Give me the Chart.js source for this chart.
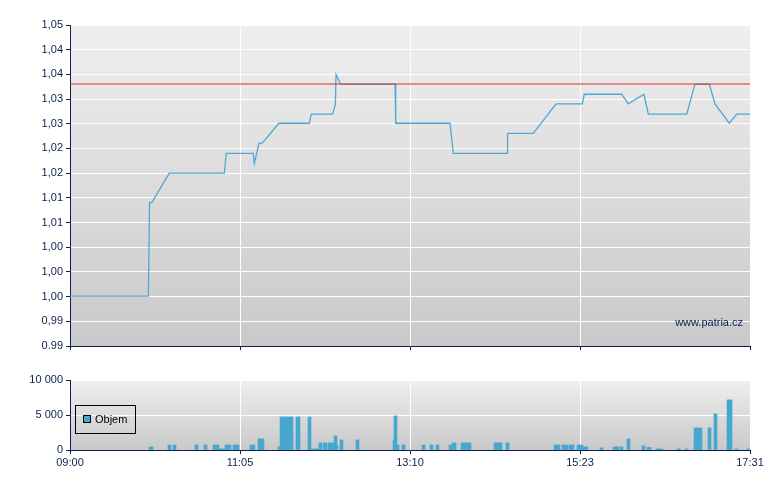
<!DOCTYPE html>
<html>
<head>
<meta charset="utf-8">
<script src="https://cdn.jsdelivr.net/npm/chart.js@4/dist/chart.umd.min.js"></script>
<style>
html,body{margin:0;padding:0;background:#ffffff;}
#wrap{position:relative;width:780px;height:490px;overflow:hidden;font-family:"Liberation Sans",Arial,sans-serif;color:#0b1f4f;}
canvas{position:absolute;left:0;}
#main{top:0;}
#vol{top:360px;}
#legend{position:absolute;left:75px;top:405px;width:59px;height:27px;border:1px solid #000;}
#legend .sw{position:absolute;left:7px;top:9px;width:6px;height:6px;border:1px solid #000;background:#48a8d0;}
#legend .tx{position:absolute;left:19px;top:7px;font-size:11px;line-height:12px;color:#000;white-space:nowrap;}
#wm{position:absolute;right:37px;top:316px;font-size:11px;line-height:13px;color:#0b1f4f;white-space:nowrap;}
</style>
</head>
<body>
<div id="wrap">
  <canvas id="main" width="780" height="358"></canvas>
  <canvas id="vol" width="780" height="130"></canvas>
  <div id="legend"><div class="sw"></div><div class="tx">Objem</div></div>
  <div id="wm">www.patria.cz</div>
</div>
<script>
// ---- data ----
const xTickLabels = ['09:00', '11:05', '13:10', '15:23', '17:31'];
const yTickLabels = ['0.99','0,99','1,00','1,00','1,00','1,01','1,01','1,02','1,02','1,03','1,03','1,04','1,04','1,05'];
const yMin = 0.9862;
const yStep = 0.0046;
const prevClose = 1.035;

// x in session position units (0 = 09:00, 4 = 17:31, tick labels at integers)
const priceX = [0, 0.461, 0.468, 0.481, 0.584, 0.908, 0.919, 1.078, 1.084, 1.112, 1.131, 1.229, 1.408, 1.419,
  1.545, 1.561, 1.565, 1.592, 1.912, 1.916, 2.235, 2.255, 2.572, 2.574, 2.725, 2.859, 3.014, 3.025, 3.245,
  3.284, 3.376, 3.402, 3.628, 3.676, 3.761, 3.794, 3.878, 3.922, 4.0];
const priceY = [0.9955, 0.9955, 1.0129, 1.0129, 1.0184, 1.0184, 1.0221, 1.0221, 1.0202, 1.0240, 1.0240, 1.0277, 1.0277, 1.0294,
  1.0294, 1.0312, 1.0368, 1.0350, 1.0350, 1.0277, 1.0277, 1.0221, 1.0221, 1.0258, 1.0258, 1.0313, 1.0313, 1.0331, 1.0331,
  1.0313, 1.0331, 1.0294, 1.0294, 1.0350, 1.0350, 1.0313, 1.0277, 1.0294, 1.0294];

const volStart = [0.465,0.576,0.606,0.735,0.788,0.841,0.875,0.912,0.959,1.059,1.106,1.224,1.235,1.329,1.400,1.418,1.465,1.488,1.518,1.553,1.571,1.588,1.682,
  1.898,1.906,1.924,1.953,2.071,2.118,2.153,2.229,2.247,2.300,2.494,2.565,2.847,2.894,2.935,2.982,3.018,3.118,3.194,3.235,3.276,3.365,3.394,3.447,3.571,3.618,3.671,3.753,3.788,3.865,3.912,3.982];
const volEnd = [0.486,0.594,0.622,0.751,0.804,0.875,0.912,0.947,0.994,1.088,1.141,1.235,1.312,1.353,1.418,1.465,1.482,1.512,1.553,1.571,1.579,1.606,1.700,
  1.906,1.924,1.935,1.971,2.088,2.135,2.171,2.247,2.271,2.359,2.541,2.582,2.882,2.929,2.965,3.018,3.047,3.133,3.229,3.253,3.294,3.382,3.418,3.488,3.588,3.635,3.718,3.771,3.806,3.894,3.929,4.0];
const volValue = [430,700,700,700,700,700,150,700,700,700,1570,430,4700,4700,4700,140,1000,1000,1000,2000,570,1430,1430,
  1430,4860,700,700,700,700,700,700,1000,1000,1000,1000,700,700,700,700,430,290,430,430,1570,570,350,140,140,140,3140,3140,5140,7140,140,140];

// ---- build ----
const navy = '#0b1f4f';
Chart.defaults.font.family = '"Liberation Sans", Arial, sans-serif';
Chart.defaults.font.size = 11;
Chart.defaults.color = navy;

const bgPlugin = {
  id: 'bg',
  beforeDraw(chart) {
    const {ctx, chartArea: a} = chart;
    const g = ctx.createLinearGradient(0, a.top, 0, a.bottom);
    g.addColorStop(0, '#efefef');
    g.addColorStop(1, '#c9c9c9');
    ctx.save();
    ctx.fillStyle = g;
    ctx.fillRect(a.left, a.top, a.right - a.left, a.bottom - a.top);
    ctx.restore();
  }
};

const priceData = priceX.map((x, i) => ({x: x, y: priceY[i]}));

new Chart(document.getElementById('main'), {
  type: 'line',
  data: {
    datasets: [
      {data: [{x: 0, y: prevClose}, {x: 4, y: prevClose}], borderColor: '#e02a2a', borderWidth: 1, pointRadius: 0},
      {data: priceData, borderColor: '#4fa8d4', borderWidth: 1.3, pointRadius: 0, tension: 0}
    ]
  },
  options: {
    responsive: false, animation: false, devicePixelRatio: 1,
    layout: {padding: {top: 25, right: 30, left: 0, bottom: 0}},
    plugins: {legend: {display: false}, tooltip: {enabled: false}},
    scales: {
      x: {
        type: 'linear', min: 0, max: 4,
        ticks: {display: false, stepSize: 1},
        grid: {color: '#ffffff', tickColor: navy, tickLength: 4, drawTicks: true},
        border: {color: navy},
        afterFit(s) { s.height = 12; }
      },
      y: {
        type: 'linear', min: yMin, max: yMin + yStep * (yTickLabels.length - 1),
        afterBuildTicks(s) { s.ticks = yTickLabels.map((l, i) => ({value: yMin + i * yStep})); },
        ticks: {callback: (v, i) => yTickLabels[i], autoSkip: false, padding: 3},
        grid: {color: '#ffffff', tickColor: navy, tickLength: 4},
        border: {color: navy},
        afterFit(s) { s.width = 70; }
      }
    }
  },
  plugins: [bgPlugin]
});

const SLOTS = 680;
const volData = [];
for (let i = 0; i < SLOTS; i++) {
  const c = (i + 0.5) * 4 / SLOTS;
  let v = null;
  for (let k = 0; k < volStart.length; k++) {
    if (c >= volStart[k] && c < volEnd[k]) { v = volValue[k]; break; }
  }
  volData.push({x: c, y: v});
}

const fmt = v => v === 0 ? '0' : String(v).replace(/\B(?=(\d{3})+(?!\d))/g, ' ');

new Chart(document.getElementById('vol'), {
  type: 'bar',
  data: {datasets: [{data: volData, backgroundColor: '#48a8d0', borderWidth: 0, barPercentage: 1, categoryPercentage: 1}]},
  options: {
    responsive: false, animation: false, devicePixelRatio: 1,
    layout: {padding: {top: 20, right: 30, left: 0, bottom: 0}},
    plugins: {legend: {display: false}, tooltip: {enabled: false}},
    scales: {
      x: {
        type: 'linear', min: 0, max: 4, offset: false,
        afterBuildTicks(s) { s.ticks = xTickLabels.map((l, i) => ({value: i})); },
        ticks: {callback: (v, i) => xTickLabels[i], autoSkip: false, maxRotation: 0, padding: 2},
        grid: {color: '#ffffff', tickColor: navy, tickLength: 4, offset: false},
        border: {color: navy},
        afterFit(s) { s.height = 40; }
      },
      y: {
        min: 0, max: 10000,
        ticks: {stepSize: 5000, callback: v => fmt(v), padding: 3},
        grid: {color: '#ffffff', tickColor: navy, tickLength: 4},
        border: {color: navy},
        afterFit(s) { s.width = 70; }
      }
    }
  },
  plugins: [bgPlugin]
});
</script>
</body>
</html>
